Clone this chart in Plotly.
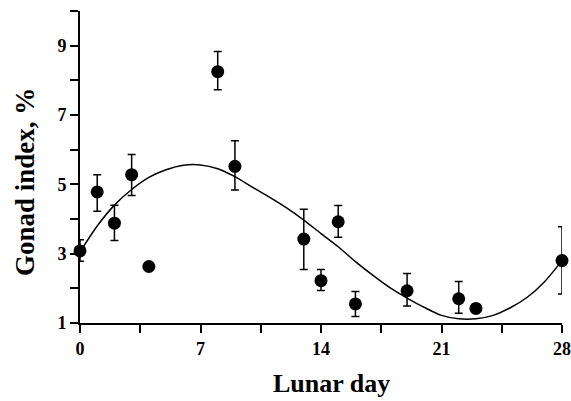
import plotly.graph_objects as go

# Observed data (lunar day, gonad index %, error bar up/down)
days = [0, 1, 2, 3, 4, 8, 9, 13, 14, 15, 16, 19, 22, 23, 28]
gi = [3.08, 4.78, 3.88, 5.28, 2.63, 8.25, 5.52, 3.42, 2.22, 3.92, 1.55, 1.93, 1.70, 1.42, 2.80]
err_up = [0.32, 0.50, 0.52, 0.58, 0.10, 0.58, 0.74, 0.86, 0.32, 0.47, 0.36, 0.50, 0.50, 0.12, 0.98]
err_dn = [0.30, 0.56, 0.50, 0.60, 0.10, 0.52, 0.68, 0.88, 0.28, 0.45, 0.36, 0.44, 0.42, 0.12, 0.96]

# Fitted curve
curve_x = list(range(0, 29))
curve_y = [3.05, 3.80, 4.40, 4.85, 5.20, 5.42, 5.55, 5.56, 5.45, 5.22, 4.92, 4.63, 4.32, 3.97,
           3.58, 3.20, 2.77, 2.38, 2.02, 1.72, 1.45, 1.22, 1.12, 1.12, 1.22, 1.44, 1.75, 2.20, 2.80]

x_ticks = [0, 7, 14, 21, 28]
y_ticks = [1, 3, 5, 7, 9]

FONT = "Liberation Serif"

fig = go.Figure()
fig.add_trace(go.Scatter(
    x=curve_x, y=curve_y, mode="lines",
    line=dict(color="black", width=1.5, shape="spline", smoothing=0.8),
    hoverinfo="skip", showlegend=False,
))
fig.add_trace(go.Scatter(
    x=days, y=gi, mode="markers",
    marker=dict(color="black", size=13, symbol="circle"),
    error_y=dict(type="data", symmetric=False, array=err_up, arrayminus=err_dn,
                 color="black", thickness=1.5, width=4),
    showlegend=False, cliponaxis=False,
))

fig.update_layout(
    width=571, height=401,
    margin=dict(l=80, r=9, t=11, b=78),
    paper_bgcolor="white", plot_bgcolor="white",
    font=dict(family=FONT, color="black"),
    xaxis=dict(
        range=[0, 28], tickvals=x_ticks, ticktext=[str(v) for v in x_ticks],
        showgrid=False, zeroline=False, automargin=False,
        showline=True, linecolor="black", linewidth=2,
        ticks="outside", ticklen=8, tickwidth=2, tickcolor="black",
        minor=dict(dtick=3.5, tick0=0, ticks="outside", ticklen=8, tickwidth=2, tickcolor="black"),
        tickfont=dict(family=FONT, size=18, color="black", weight="bold"),
    ),
    yaxis=dict(
        range=[1, 10], tickvals=y_ticks, ticktext=[str(v) for v in y_ticks],
        showgrid=False, zeroline=False, automargin=False,
        showline=True, linecolor="black", linewidth=2,
        ticks="outside", ticklen=8, tickwidth=2, tickcolor="black",
        minor=dict(dtick=1, tick0=1, ticks="outside", ticklen=8, tickwidth=2, tickcolor="black"),
        tickfont=dict(family=FONT, size=18, color="black", weight="bold"),
    ),
    annotations=[
        dict(text="<b>Lunar day</b>", xref="paper", yref="paper", x=0.521, y=-0.193,
             xanchor="center", yanchor="middle", showarrow=False,
             font=dict(family=FONT, size=26, color="black")),
        dict(text="<b>Gonad index, %</b>", xref="paper", yref="paper", x=-0.114, y=0.452,
             xanchor="center", yanchor="middle", showarrow=False, textangle=-90,
             font=dict(family=FONT, size=27, color="black")),
    ],
)

fig.write_html("out.html")
